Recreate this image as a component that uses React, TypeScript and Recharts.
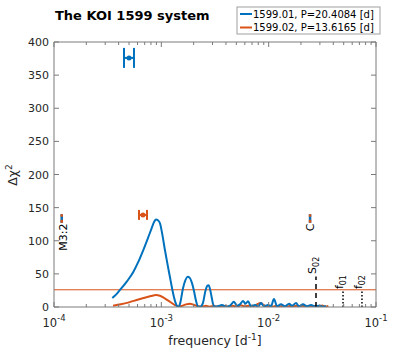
import { ComposedChart, Line, Scatter, ErrorBar, XAxis, YAxis, ReferenceLine } from "recharts";

const BLUE = "#0072BD";
const ORANGE = "#D95319";
const AXIS = "#7a7a7a";
const TEXT = "#262626";
const FONT = "DejaVu Sans, sans-serif";

// ---- periodogram, 1599.01 ----
const freq01 = [
  3.49e-4, 3.8e-4, 4.12e-4, 4.8e-4, 5.48e-4, 6.1e-4, 6.79e-4, 7.5e-4, 8.13e-4, 8.6e-4,
  8.91e-4, 9.3e-4, 9.73e-4, 1.02e-3, 1.08e-3, 1.14e-3, 1.2e-3, 1.26e-3, 1.31e-3, 1.36e-3,
  1.41e-3, 1.45e-3, 1.5e-3, 1.59e-3, 1.68e-3, 1.76e-3, 1.84e-3, 1.93e-3, 2.01e-3, 2.1e-3,
  2.2e-3, 2.3e-3, 2.44e-3, 2.58e-3, 2.68e-3, 2.76e-3, 2.85e-3, 2.95e-3, 3.05e-3, 3.15e-3,
  3.37e-3, 3.67e-3, 4.0e-3, 4.36e-3, 4.75e-3, 5.07e-3, 5.41e-3, 5.77e-3, 6.08e-3, 6.42e-3,
  6.85e-3, 7.46e-3, 7.96e-3, 8.49e-3, 9.05e-3, 9.86e-3, 1.05e-2, 1.12e-2, 1.2e-2, 1.3e-2,
  1.42e-2, 1.55e-2, 1.65e-2, 1.8e-2, 1.92e-2, 2.09e-2, 2.28e-2, 2.48e-2, 2.7e-2, 2.94e-2,
  3.21e-2, 3.42e-2,
];
const chi01 = [
  13.6, 19, 25.7, 39, 53, 68, 86, 104, 119, 129,
  132, 131, 126, 110, 86, 65, 46, 28, 15, 6,
  1, 0.5, 6, 28, 41, 45.5, 44, 36, 25, 10,
  1, 0.5, 6, 25, 32, 33, 26, 14, 3, 0.5,
  1, 3, 0.5, 2, 8, 2, 4, 9, 5, 8.5,
  1, 3, 0.5, 6, 1, 3, 1, 12, 1, 4,
  1, 5, 2, 6, 1, 4, 1, 3, 1, 2,
  0.5, 1.5,
];

// ---- periodogram, 1599.02 ----
const freq02 = [
  3.55e-4, 4.2e-4, 5.0e-4, 6.0e-4, 7.0e-4, 8.0e-4, 8.9e-4, 9.7e-4, 1.05e-3, 1.15e-3,
  1.25e-3, 1.35e-3, 1.45e-3, 1.55e-3, 1.7e-3, 1.85e-3, 2.0e-3, 2.2e-3, 2.4e-3, 2.6e-3,
  2.8e-3, 3.1e-3, 3.4e-3, 3.8e-3, 4.2e-3, 4.6e-3, 5.0e-3, 5.5e-3, 6.0e-3, 6.6e-3,
  7.2e-3, 7.8e-3, 8.4e-3, 9.0e-3, 9.6e-3, 1.03e-2, 1.1e-2, 1.18e-2, 1.27e-2, 1.36e-2,
  1.46e-2, 1.57e-2, 1.68e-2, 1.8e-2, 1.93e-2, 2.07e-2, 2.22e-2, 2.38e-2, 2.55e-2, 2.74e-2,
  2.94e-2, 3.15e-2, 3.38e-2, 3.6e-2,
];
const chi02 = [
  2, 4, 7, 11, 14, 16.5, 18, 17, 14, 10,
  6, 2.5, 0.8, 1.5, 4, 5, 3.5, 1, 0.5, 2,
  0.5, 1.5, 0.3, 2, 0.5, 1.8, 0.3, 2.5, 0.8, 2,
  1, 4, 6, 3, 0.5, 2, 0.5, 1.8, 0.5, 2,
  0.3, 1.5, 0.5, 2, 0.5, 1.8, 0.5, 2, 0.5, 2,
  0.5, 2.2, 0.5, 1.5,
];

const threshold = 26;

// best-fit points with frequency error bars
const fitFreq = [5.0e-4, 6.74e-4];
const fitChi = [376, 139];
const fitErrLow = [0.51e-4, 0.55e-4];
const fitErrHigh = [0.56e-4, 0.61e-4];

// resonance markers
const resNames = ["M3:2", "C"];
const resFreq = [1.18e-4, 2.43e-2];
const resLow = 127;
const resHigh = 140;

// vertical frequency markers
const markNames = ["S", "f", "f"];
const markSubs = ["02", "01", "02"];
const markFreq = [0.0276, 0.0493, 0.074];
const markTop = [46, 26, 26];

const xTicks = [
  1e-4, 2e-4, 3e-4, 4e-4, 5e-4, 6e-4, 7e-4, 8e-4, 9e-4,
  1e-3, 2e-3, 3e-3, 4e-3, 5e-3, 6e-3, 7e-3, 8e-3, 9e-3,
  1e-2, 2e-2, 3e-2, 4e-2, 5e-2, 6e-2, 7e-2, 8e-2, 9e-2, 1e-1,
];
const yTicks = [0, 50, 100, 150, 200, 250, 300, 350, 400];

const series01 = freq01.map((f, i) => ({ f, v: chi01[i] }));
const series02 = freq02.map((f, i) => ({ f, v: chi02[i] }));
const fit01 = [{ f: fitFreq[0], v: fitChi[0], ex: [fitErrLow[0], fitErrHigh[0]] }];
const fit02 = [{ f: fitFreq[1], v: fitChi[1], ex: [fitErrLow[1], fitErrHigh[1]] }];
const resSegs = resFreq.map((f) => [{ f, v: resLow }, { f, v: resHigh }]);
const markSegs = markFreq.map((f, i) => [{ f, v: 0 }, { f, v: markTop[i] }]);
const resLabels = resNames.map((name, i) => ({ f: resFreq[i], v: resLow - 1, main: name, sub: "", kind: "res" }));
const markLabels = markNames.map((name, i) => ({ f: markFreq[i], v: markTop[i] + (i === 0 ? 4 : 1), main: name, sub: markSubs[i], kind: "mark" }));

const isDecade = (v: number) => Math.abs(Math.log10(v) - Math.round(Math.log10(v))) < 1e-6;

const BottomTick = ({ x, y, payload }: any) => {
  const major = isDecade(payload.value);
  return (
    <g>
      <line x1={x} x2={x} y1={y} y2={y - (major ? 5 : 3)} stroke={AXIS} />
      {major && (
        <text x={x} y={y + 20} textAnchor="middle" fontSize={11.5} fill={TEXT} fontFamily={FONT}>
          10<tspan dy={-6} fontSize={8.5}>{Math.round(Math.log10(payload.value))}</tspan>
        </text>
      )}
    </g>
  );
};

const TopTick = ({ x, y, payload }: any) => {
  const major = isDecade(payload.value);
  return <line x1={x} x2={x} y1={y} y2={y + (major ? 5 : 3)} stroke={AXIS} />;
};

const LeftTick = ({ x, y, payload }: any) => (
  <g>
    <line x1={x} x2={x + 5} y1={y} y2={y} stroke={AXIS} />
    <text x={x - 5} y={y} dy={4} textAnchor="end" fontSize={11} fill={TEXT} fontFamily={FONT}>
      {payload.value}
    </text>
  </g>
);

const RightTick = ({ x, y }: any) => <line x1={x} x2={x - 5} y1={y} y2={y} stroke={AXIS} />;

const FitDot = (color: string) => (p: any) => <circle cx={p.cx} cy={p.cy} r={2.5} fill={color} />;

const RotLabel = (p: any) => {
  const d = p.payload;
  const bx = p.cx + (d.kind === "res" ? (d.main === "C" ? 4 : 5) : 0);
  return (
    <text
      x={bx}
      y={p.cy}
      transform={`rotate(-90 ${bx} ${p.cy})`}
      textAnchor={d.kind === "res" ? "end" : "start"}
      fontSize={11}
      fill="#000"
      fontFamily={FONT}
    >
      {d.main}
      {d.sub && <tspan dy={3} fontSize={8}>{d.sub}</tspan>}
    </text>
  );
};

export default function App() {
  return (
    <div style={{ position: "absolute", left: 0, top: 0, width: 416, height: 353, background: "#fff" }}>
      <ComposedChart width={416} height={353} margin={{ top: 0, right: 0, bottom: 0, left: 0 }}>
        <XAxis
          dataKey="f" type="number" scale="log" domain={[1e-4, 1e-1]} allowDataOverflow
          ticks={xTicks} interval={0} tickSize={0} tickMargin={0} tickLine={false}
          tick={<BottomTick />} height={46} stroke={AXIS}
        />
        <XAxis
          xAxisId="top" orientation="top" dataKey="f" type="number" scale="log" domain={[1e-4, 1e-1]}
          allowDataOverflow ticks={xTicks} interval={0} tickSize={0} tickMargin={0} tickLine={false}
          tick={<TopTick />} height={42} stroke={AXIS}
        />
        <YAxis
          dataKey="v" type="number" domain={[0, 400]} allowDataOverflow ticks={yTicks} interval={0}
          tickSize={0} tickMargin={0} tickLine={false} tick={<LeftTick />} width={54} stroke={AXIS}
        />
        <YAxis
          yAxisId="right" orientation="right" dataKey="v" type="number" domain={[0, 400]} allowDataOverflow
          ticks={yTicks} interval={0} tickSize={0} tickMargin={0} tickLine={false} tick={<RightTick />}
          width={40} stroke={AXIS}
        />

        <ReferenceLine y={threshold} stroke={ORANGE} strokeWidth={1} />

        <Line data={series02} dataKey="v" type="monotone" stroke={ORANGE} strokeWidth={2} dot={false} isAnimationActive={false} />
        <Line data={series01} dataKey="v" type="monotone" stroke={BLUE} strokeWidth={2} dot={false} isAnimationActive={false} />

        {resSegs.map((seg, i) => (
          <Line key={`rb${i}`} data={seg} dataKey="v" type="linear" stroke={BLUE} strokeWidth={2.5} dot={false} isAnimationActive={false} />
        ))}
        {resSegs.map((seg, i) => (
          <Line key={`ro${i}`} data={seg} dataKey="v" type="linear" stroke={ORANGE} strokeWidth={2.5} strokeDasharray="3 3" dot={false} isAnimationActive={false} />
        ))}
        {markSegs.map((seg, i) => (
          <Line
            key={`m${i}`} data={seg} dataKey="v" type="linear" stroke="#000" strokeWidth={1.5}
            strokeDasharray={i === 0 ? "5 4" : "1.5 2"} dot={false} isAnimationActive={false}
          />
        ))}

        <Scatter data={fit01} dataKey="v" shape={FitDot(BLUE)} isAnimationActive={false}>
          <ErrorBar dataKey="ex" direction="x" width={10} stroke={BLUE} strokeWidth={2} />
        </Scatter>
        <Scatter data={fit02} dataKey="v" shape={FitDot(ORANGE)} isAnimationActive={false}>
          <ErrorBar dataKey="ex" direction="x" width={5} stroke={ORANGE} strokeWidth={2} />
        </Scatter>

        <Scatter data={[...resLabels, ...markLabels]} dataKey="v" shape={RotLabel} isAnimationActive={false} />

        <text x={55} y={20} fontSize={13} fontWeight="bold" fill="#000" fontFamily={FONT}>The KOI 1599 system</text>

        <g>
          <rect x={237} y={7} width={143} height={27} fill="#fff" stroke="#a0a0a0" strokeWidth={1} />
          <line x1={240} x2={252} y1={14} y2={14} stroke={BLUE} strokeWidth={2} />
          <text x={253} y={17.5} fontSize={10} fill="#000" fontFamily={FONT}>1599.01, P=20.4084 [d]</text>
          <line x1={240} x2={252} y1={27.5} y2={27.5} stroke={ORANGE} strokeWidth={2} />
          <text x={253} y={31} fontSize={10} fill="#000" fontFamily={FONT}>1599.02, P=13.6165 [d]</text>
        </g>

        <text x={215} y={345} textAnchor="middle" fontSize={12.5} fill={TEXT} fontFamily={FONT}>
          frequency [d<tspan dy={-5} fontSize={9}>-1</tspan><tspan dy={5}>]</tspan>
        </text>
        <text x={17} y={175} transform="rotate(-90 17 175)" textAnchor="middle" fontSize={12.5} fill={TEXT} fontFamily={FONT}>
          Δχ<tspan dy={-5} fontSize={9}>2</tspan>
        </text>
      </ComposedChart>
    </div>
  );
}
